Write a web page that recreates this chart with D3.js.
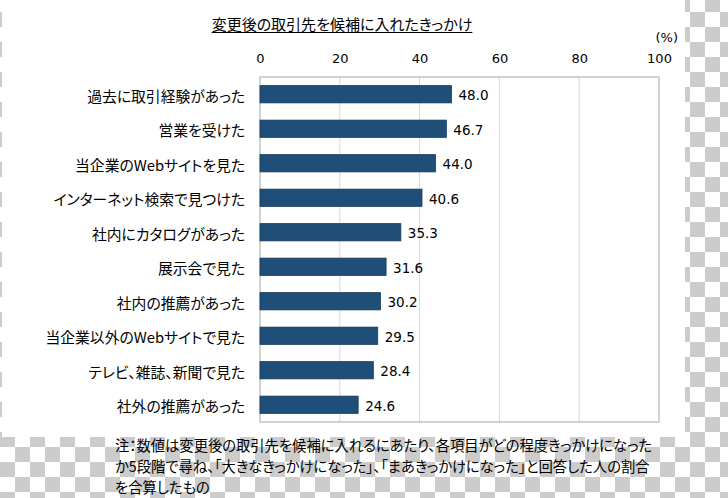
<!DOCTYPE html>
<html>
<head>
<meta charset="utf-8">
<script src="https://cdn.jsdelivr.net/npm/d3@7"></script>
<style>
  html, body { margin: 0; padding: 0; background: #fff; }
  svg { display: block; }
  .jp { font-feature-settings: "palt" 1; }
</style>
</head>
<body>
<script>
const categories = [
  "過去に取引経験があった",
  "営業を受けた",
  "当企業のWebサイトを見た",
  "インターネット検索で見つけた",
  "社内にカタログがあった",
  "展示会で見た",
  "社内の推薦があった",
  "当企業以外のWebサイトで見た",
  "テレビ、雑誌、新聞で見た",
  "社外の推薦があった"
];
const values = [48.0, 46.7, 44.0, 40.6, 35.3, 31.6, 30.2, 29.5, 28.4, 24.6];
const ticks = [0, 20, 40, 60, 80, 100];
const title = "変更後の取引先を候補に入れたきっかけ";
const unitLabel = "(%)";
const noteLines = [
  "注：数値は変更後の取引先を候補に入れるにあたり、各項目がどの程度きっかけになった",
  "か5段階で尋ね、「大きなきっかけになった」、「まあきっかけになった」と回答した人の割合",
  "を合算したもの"
];

const W = 728, H = 498;
const jp = "'Noto Sans CJK JP', 'Noto Sans', sans-serif";
const num = "'DejaVu Sans', Verdana, sans-serif";

const svg = d3.select("body").append("svg").attr("width", W).attr("height", H);

// checkerboard background
const defs = svg.append("defs");
const pat = defs.append("pattern").attr("id", "chk")
  .attr("patternUnits", "userSpaceOnUse")
  .attr("width", 30).attr("height", 30)
  .attr("x", 0).attr("y", -3);
pat.append("rect").attr("width", 30).attr("height", 30).attr("fill", "#ffffff");
pat.append("rect").attr("x", 15).attr("y", 0).attr("width", 15).attr("height", 15).attr("fill", "#cccccc");
pat.append("rect").attr("x", 0).attr("y", 15).attr("width", 15).attr("height", 15).attr("fill", "#cccccc");
svg.append("rect").attr("width", W).attr("height", H).attr("fill", "url(#chk)");
svg.append("rect").attr("x", 2).attr("y", 0).attr("width", 683).attr("height", 437).attr("fill", "#ffffff");

const x = d3.scaleLinear().domain([0, 100]).range([260, 659]);
const y = d3.scaleBand().domain(categories).range([77, 422]).paddingInner(0.5).paddingOuter(0.25);

// gridlines
svg.append("g").selectAll("line").data(ticks.filter(t => t > 0 && t < 100)).join("line")
  .attr("x1", d => x(d)).attr("x2", d => x(d))
  .attr("y1", 77).attr("y2", 422)
  .attr("stroke", "#d9d9d9").attr("stroke-width", 1);

// plot frame
svg.append("rect").attr("x", x(0)).attr("y", 77)
  .attr("width", x(100) - x(0)).attr("height", 345)
  .attr("fill", "none").attr("stroke", "#a6a6a6").attr("stroke-width", 1);

// top axis
const axis = d3.axisTop(x).tickValues(ticks).tickSize(0).tickPadding(0).tickFormat(d3.format("d"));
const ag = svg.append("g").attr("transform", "translate(0,63)").call(axis);
ag.select(".domain").remove();
ag.selectAll("text").attr("font-family", num).attr("font-size", 13).attr("fill", "#000");

// unit
svg.append("text").attr("x", 678).attr("y", 37).attr("text-anchor", "end")
  .attr("dominant-baseline", "central")
  .attr("font-family", num).attr("font-size", 13).text(unitLabel);

// bars
svg.append("g").selectAll("rect").data(values).join("rect")
  .attr("x", x(0))
  .attr("y", (d, i) => y(categories[i]))
  .attr("width", d => x(d) - x(0))
  .attr("height", y.bandwidth())
  .attr("fill", "#1f4e79").attr("stroke", "#163a5c").attr("stroke-width", 0.8);

// value labels
svg.append("g").selectAll("text").data(values).join("text")
  .attr("x", d => x(d) + 7)
  .attr("y", (d, i) => y(categories[i]) + y.bandwidth() / 2 + 1)
  .attr("dominant-baseline", "central")
  .attr("font-family", num).attr("font-size", 13.5).attr("fill", "#000")
  .text(d => d.toFixed(1));

// category labels
svg.append("g").selectAll("text").data(categories).join("text")
  .attr("class", "jp")
  .attr("x", 245)
  .attr("y", d => y(d) + y.bandwidth() / 2 + 1)
  .attr("text-anchor", "end").attr("dominant-baseline", "central")
  .attr("font-family", jp).attr("font-size", 14.8).attr("fill", "#000")
  .text(d => d);

// title
const t = svg.append("text").attr("class", "jp").attr("x", 342).attr("y", 23).attr("text-anchor", "middle")
  .attr("dominant-baseline", "central")
  .attr("font-family", jp).attr("font-size", 15).attr("fill", "#000")
  .text(title);
const tb = t.node().getBBox();
svg.append("line").attr("x1", tb.x).attr("x2", tb.x + tb.width)
  .attr("y1", 32.5).attr("y2", 32.5).attr("stroke", "#000").attr("stroke-width", 1);

// note
svg.append("g").selectAll("text").data(noteLines).join("text")
  .attr("class", "jp")
  .attr("x", 115).attr("y", (d, i) => 444 + i * 21)
  .attr("dominant-baseline", "central")
  .attr("font-family", jp).attr("font-size", 14.3).attr("fill", "#000")
  .text(d => d);
</script>
</body>
</html>
